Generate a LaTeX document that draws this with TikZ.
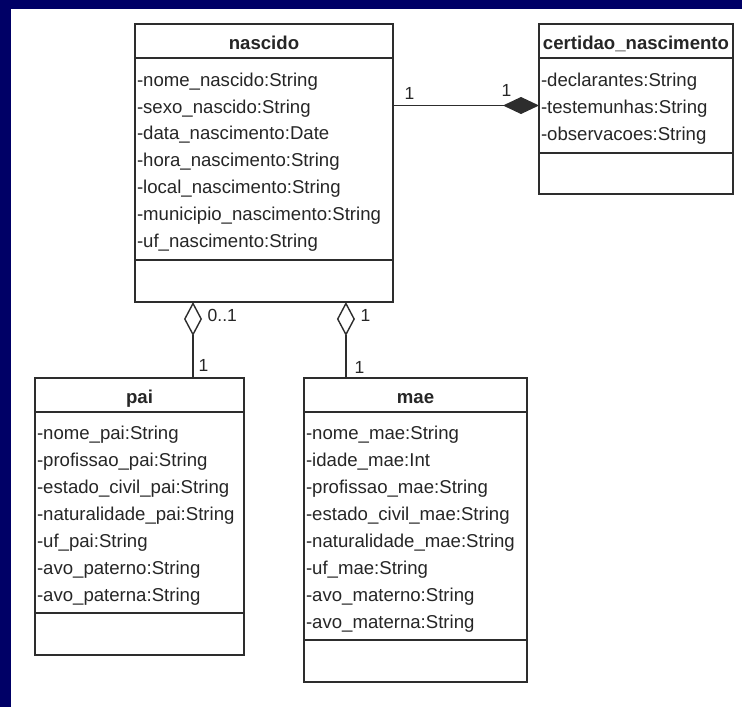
\documentclass[tikz,border=0pt]{standalone}
\usepackage{fontspec}
\setmainfont{Liberation Sans}
\usetikzlibrary{arrows.meta, positioning, calc}
\definecolor{bgnavy}{RGB}{0,0,102}
\definecolor{umlline}{RGB}{45,45,45}

\tikzset{
    classbox/.style={draw=umlline, line width=1.4pt, inner sep=0pt, outer sep=0pt, text=black!85},
    classhead/.style={classbox, font=\fontsize{18.6}{22}\selectfont\bfseries, minimum height=34pt,
        text height=17.6pt, text depth=0pt},
    classattr/.style={classbox, align=left, inner xsep=2pt, font=\fontsize{18.6}{26.9}\selectfont,
        execute at begin node=\rule{0pt}{19.6pt}},
    classops/.style={classbox, minimum height=42pt},
    assoc/.style={draw=umlline, line width=1.4pt},
    mult/.style={font=\fontsize{17.5}{20}\selectfont, inner sep=0pt, text=black!85}
}

\begin{document}
\begin{tikzpicture}[x=1pt, y=-1pt]
    \fill[bgnavy] (0,0) rectangle (742,707);
    \fill[white] (11,9) rectangle (742,707);
    \useasboundingbox (0,0) rectangle (742,707);

    % nascido
    \node[classhead, minimum width=258pt] (nasc) at (264,41) {nascido};
    \node[classattr, below=0pt of nasc, minimum width=258pt, text width=254pt, minimum height=202pt] (nasc-at) {%
        -nome\_nascido:String\\
        -sexo\_nascido:String\\
        -data\_nascimento:Date\\
        -hora\_nascimento:String\\
        -local\_nascimento:String\\
        -municipio\_nascimento:String\\
        -uf\_nascimento:String};
    \node[classops, below=0pt of nasc-at, minimum width=258pt] (nasc-op) {};

    % certidao_nascimento
    \node[classhead, minimum width=194pt] (cert) at (636,41) {certidao\_nascimento};
    \node[classattr, below=0pt of cert, minimum width=194pt, text width=190pt, minimum height=95pt] (cert-at) {%
        -declarantes:String\\
        -testemunhas:String\\
        -observacoes:String};
    \node[classops, below=0pt of cert-at, minimum width=194pt, minimum height=41pt] (cert-op) {};

    % pai
    \node[classhead, minimum width=209pt] (pai) at (139.5,395) {pai};
    \node[classattr, below=0pt of pai, minimum width=209pt, text width=205pt, minimum height=201pt] (pai-at) {%
        -nome\_pai:String\\
        -profissao\_pai:String\\
        -estado\_civil\_pai:String\\
        -naturalidade\_pai:String\\
        -uf\_pai:String\\
        -avo\_paterno:String\\
        -avo\_paterna:String};
    \node[classops, below=0pt of pai-at, minimum width=209pt] (pai-op) {};

    % mae
    \node[classhead, minimum width=223pt] (mae) at (415.5,395) {mae};
    \node[classattr, below=0pt of mae, minimum width=223pt, text width=219pt, minimum height=228pt] (mae-at) {%
        -nome\_mae:String\\
        -idade\_mae:Int\\
        -profissao\_mae:String\\
        -estado\_civil\_mae:String\\
        -naturalidade\_mae:String\\
        -uf\_mae:String\\
        -avo\_materno:String\\
        -avo\_materna:String};
    \node[classops, below=0pt of mae-at, minimum width=223pt] (mae-op) {};

    \coordinate (pai-link) at ($(pai.north west)!0.756!(pai.north east)$);
    \coordinate (mae-link) at ($(mae.north west)!0.188!(mae.north east)$);

    \draw[assoc, -{Diamond[length=36pt, width=17pt]}]
        (nasc-at.east |- cert-at.west) -- (cert-at.west)
        node[mult, pos=0.113, above=5pt] {1}
        node[mult, pos=0.777, above=8pt] {1};
    \draw[assoc, -{Diamond[open, length=34pt, width=18pt]}]
        (pai-link) -- (pai-link |- nasc-op.south)
        node[mult, pos=0.82, right=14pt] {0..1}
        node[mult, pos=0.16, right=5pt] {1};
    \draw[assoc, -{Diamond[open, length=34pt, width=18pt]}]
        (mae-link) -- (mae-link |- nasc-op.south)
        node[mult, pos=0.82, right=14pt] {1}
        node[mult, pos=0.14, right=8pt] {1};
\end{tikzpicture}
\end{document}
